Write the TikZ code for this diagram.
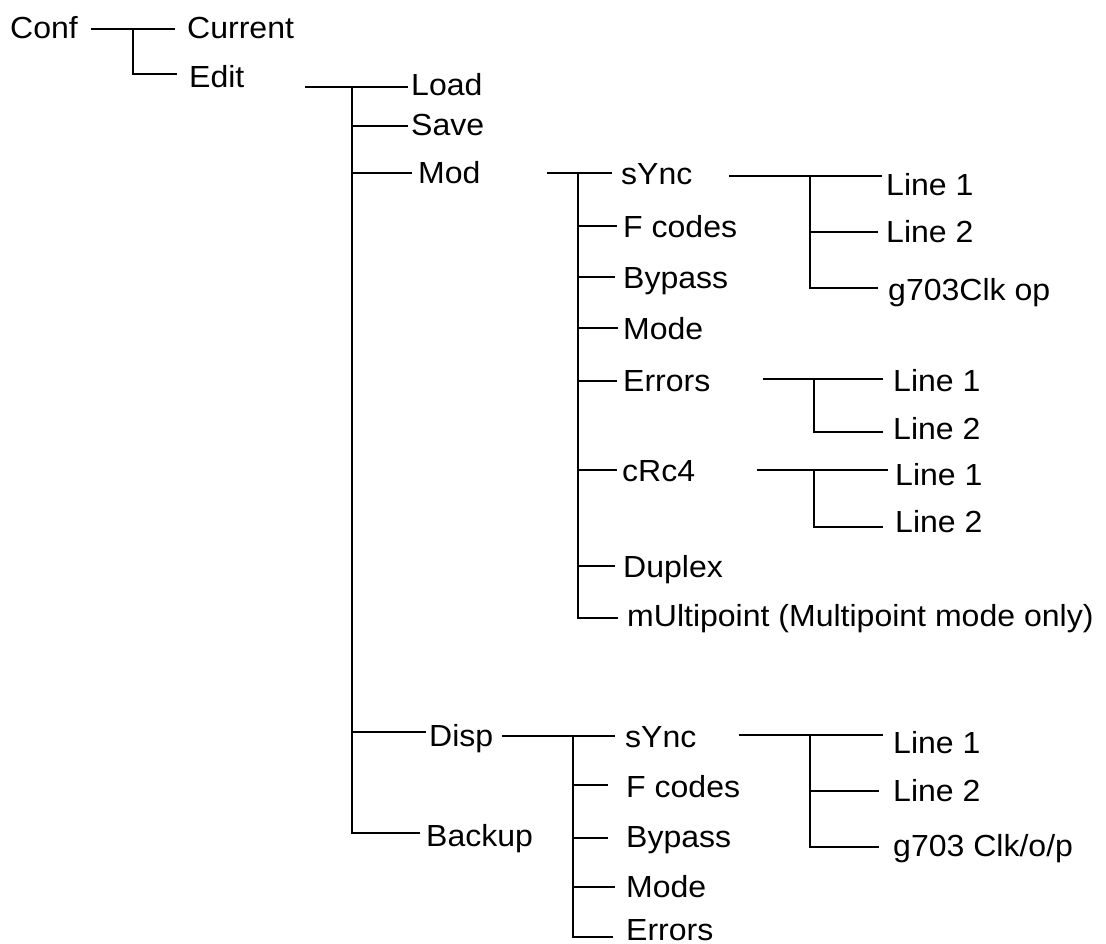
\documentclass[tikz,border=0pt]{standalone}
\usepackage{fontspec}
\setmainfont{Liberation Sans}
\newfontfamily\wide[FakeStretch=1.05]{Liberation Sans}
\begin{document}
\begin{tikzpicture}[x=1pt,y=-1pt,
  txt/.style={anchor=base west,inner sep=0pt,font=\wide\fontsize{30.5}{36}\selectfont},
  wire/.style={line width=2.1pt,line join=miter}]
\useasboundingbox (0,0) rectangle (1106,944);
% ---- texts (x = left of ink - 2, y = cap centre + 11)
\node[txt] (conf) at (10,39) {Conf};
\node[txt] (current) at (187,39) {Current};
\node[txt] (edit) at (189,88) {Edit};
\node[txt] (load) at (411,96) {Load};
\node[txt] (save) at (411,136) {Save};
\node[txt] (mod) at (418,184) {Mod};
\node[txt] (disp) at (429,746) {Disp};
\node[txt] (backup) at (426,846) {Backup};
% Mod children
\node[txt] (msync) at (621,185) {sYnc};
\node[txt] (mfc) at (623,237) {F codes};
\node[txt] (mbyp) at (623,288) {Bypass};
\node[txt] (mmode) at (623,339) {Mode};
\node[txt] (merr) at (623,391) {Errors};
\node[txt] (mcrc) at (622,481) {cRc4};
\node[txt] (mdup) at (623,577) {Duplex};
\node[txt] (mmul) at (627,626) {mUltipoint (Multipoint mode only)};
% Mod sYnc children
\node[txt] (ms1) at (886,196) {Line 1};
\node[txt] (ms2) at (886,243) {Line 2};
\node[txt] (ms3) at (888,301) {g703Clk op};
% Errors children
\node[txt] (me1) at (893,391) {Line 1};
\node[txt] (me2) at (893,439) {Line 2};
% cRc4 children
\node[txt] (mc1) at (895,485) {Line 1};
\node[txt] (mc2) at (895,532) {Line 2};
% Disp children
\node[txt] (dsync) at (625,747) {sYnc};
\node[txt] (dfc) at (626,797) {F codes};
\node[txt] (dbyp) at (626,847) {Bypass};
\node[txt] (dmode) at (626,897) {Mode};
\node[txt] (derr) at (626,940) {Errors};
% Disp sYnc children
\node[txt] (ds1) at (893,753) {Line 1};
\node[txt] (ds2) at (893,801) {Line 2};
\node[txt] (ds3) at (893,856) {g703 Clk/o/p};
% ---- connector coordinates
\coordinate (confR) at (91,29);
\coordinate (jConf) at (133,29);
\coordinate (curL) at (175,29);
\coordinate (editL) at (177,74);
\coordinate (editR) at (305,87);
\coordinate (jEdit) at (352,87);
\coordinate (loadL) at (408,87);
\coordinate (saveL) at (408,126);
\coordinate (modL) at (412,173);
\coordinate (dispL) at (426,732);
\coordinate (backL) at (420,833);
\coordinate (modR) at (547,173);
\coordinate (jMod) at (578,173);
\coordinate (msyncL) at (612,173);
\coordinate (mfcL) at (617,226);
\coordinate (mbypL) at (615,277);
\coordinate (mmodeL) at (618,328);
\coordinate (merrL) at (617,381);
\coordinate (mcrcL) at (617,470);
\coordinate (mdupL) at (615,566);
\coordinate (mmulL) at (618,618);
\coordinate (msyncR) at (729,176);
\coordinate (jMs) at (810,176);
\coordinate (ms1L) at (882,176);
\coordinate (ms2L) at (878,232);
\coordinate (ms3L) at (878,288);
\coordinate (merrR) at (763,379);
\coordinate (jMe) at (814,379);
\coordinate (me1L) at (883,379);
\coordinate (me2L) at (883,432);
\coordinate (mcrcR) at (757,470);
\coordinate (jMc) at (814,470);
\coordinate (mc1L) at (888,470);
\coordinate (mc2L) at (883,527);
\coordinate (dispR) at (502,736);
\coordinate (jDisp) at (573,736);
\coordinate (dsyncL) at (615,736);
\coordinate (dfcL) at (608,785);
\coordinate (dbypL) at (608,838);
\coordinate (dmodeL) at (615,887);
\coordinate (derrL) at (613,937);
\coordinate (dsyncR) at (739,735);
\coordinate (jDs) at (810,735);
\coordinate (ds1L) at (883,735);
\coordinate (ds2L) at (879,791);
\coordinate (ds3L) at (879,847);
% ---- connectors
\draw[wire] (confR) -- (curL);
\draw[wire] (jConf) |- (editL);
\draw[wire] (editR) -- (loadL);
\draw[wire] (jEdit) |- (backL);
\draw[wire] (jEdit |- saveL) -- (saveL);
\draw[wire] (jEdit |- modL) -- (modL);
\draw[wire] (jEdit |- dispL) -- (dispL);
\draw[wire] (modR) -- (msyncL);
\draw[wire] (jMod) |- (mmulL);
\foreach \c in {mfcL,mbypL,mmodeL,merrL,mcrcL,mdupL}
  \draw[wire] (jMod |- \c) -- (\c);
\draw[wire] (msyncR) -- (ms1L);
\draw[wire] (jMs) |- (ms3L);
\draw[wire] (jMs |- ms2L) -- (ms2L);
\draw[wire] (merrR) -- (me1L);
\draw[wire] (jMe) |- (me2L);
\draw[wire] (mcrcR) -- (mc1L);
\draw[wire] (jMc) |- (mc2L);
\draw[wire] (dispR) -- (dsyncL);
\draw[wire] (jDisp) |- (derrL);
\foreach \c in {dfcL,dbypL,dmodeL}
  \draw[wire] (jDisp |- \c) -- (\c);
\draw[wire] (dsyncR) -- (ds1L);
\draw[wire] (jDs) |- (ds3L);
\draw[wire] (jDs |- ds2L) -- (ds2L);
\end{tikzpicture}
\end{document}
